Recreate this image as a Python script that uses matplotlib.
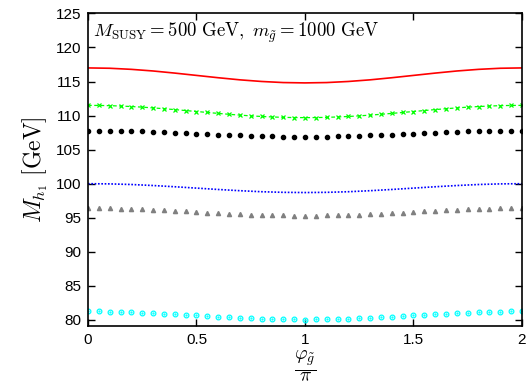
"""
Lightest Higgs mass vs gluino phase, gnuplot-like look.
"""

import numpy as np
import matplotlib
matplotlib.use('Agg')
import matplotlib.pyplot as plt

plt.rcParams['mathtext.fontset'] = 'cm'
plt.rcParams['font.family'] = ['Liberation Sans', 'DejaVu Sans']

# phase / pi
phi_line = np.linspace(0, 2, 21)
phi_pts = np.linspace(0, 2, 41)

red = [117.0, 116.95, 116.79, 116.55, 116.24, 115.9, 115.56, 115.25, 115.01, 114.85, 114.8,
       114.85, 115.01, 115.25, 115.56, 115.9, 116.24, 116.55, 116.79, 116.95, 117.0]
blue = [100.0, 99.97, 99.88, 99.73, 99.55, 99.35, 99.15, 98.97, 98.82, 98.73, 98.7,
        98.73, 98.82, 98.97, 99.15, 99.35, 99.55, 99.73, 99.88, 99.97, 100.0]

green = [111.5, 111.49, 111.46, 111.4, 111.33, 111.24, 111.13, 111.01, 110.88, 110.74, 110.6,
         110.46, 110.32, 110.19, 110.07, 109.96, 109.87, 109.8, 109.74, 109.71, 109.7,
         109.71, 109.74, 109.8, 109.87, 109.96, 110.07, 110.19, 110.32, 110.46, 110.6,
         110.74, 110.88, 111.01, 111.13, 111.24, 111.33, 111.4, 111.46, 111.49, 111.5]
black = [107.8, 107.79, 107.78, 107.75, 107.71, 107.67, 107.61, 107.55, 107.49, 107.42, 107.35,
         107.28, 107.21, 107.15, 107.09, 107.03, 106.99, 106.95, 106.92, 106.91, 106.9,
         106.91, 106.92, 106.95, 106.99, 107.03, 107.09, 107.15, 107.21, 107.28, 107.35,
         107.42, 107.49, 107.55, 107.61, 107.67, 107.71, 107.75, 107.78, 107.79, 107.8]
gray = [96.4, 96.39, 96.37, 96.34, 96.29, 96.24, 96.17, 96.1, 96.02, 95.94, 95.85,
        95.76, 95.68, 95.6, 95.53, 95.46, 95.41, 95.36, 95.33, 95.31, 95.3,
        95.31, 95.33, 95.36, 95.41, 95.46, 95.53, 95.6, 95.68, 95.76, 95.85,
        95.94, 96.02, 96.1, 96.17, 96.24, 96.29, 96.34, 96.37, 96.39, 96.4]
cyan = [81.25, 81.24, 81.22, 81.18, 81.14, 81.07, 81.0, 80.92, 80.84, 80.74, 80.65,
        80.56, 80.46, 80.38, 80.3, 80.23, 80.16, 80.12, 80.08, 80.06, 80.05,
        80.06, 80.08, 80.12, 80.16, 80.23, 80.3, 80.38, 80.46, 80.56, 80.65,
        80.74, 80.84, 80.92, 81.0, 81.07, 81.14, 81.18, 81.22, 81.24, 81.25]

fig = plt.figure(figsize=(5.31, 3.84), dpi=100)
ax = fig.add_axes([0.1657, 0.151, 0.8173, 0.814])

ax.plot(phi_line, red, color='#ff0000', lw=1.2)
ax.plot(phi_pts, green, color='#00ff00', lw=0.9, ls=(0, (3, 2)),
        marker='x', ms=3.2, mew=0.9)
ax.plot(phi_pts, black, ls='none', marker='o', ms=3.0, color='black')
ax.plot(phi_line, blue, color='#0000ff', lw=1.2, ls=(0, (1, 1)))
ax.plot(phi_pts, gray, ls='none', marker='^', ms=3.0, color='#808080')
ax.plot(phi_pts, cyan, ls='none', marker='o', ms=3.4, mfc='none',
        mec='#00ffff', mew=0.9)
ax.plot(phi_pts, cyan, ls='none', marker='.', ms=1.2, color='#00ffff')

ax.set_xlim(0, 2)
ax.set_ylim(79.1, 125)
ax.set_xticks([0, 0.5, 1, 1.5, 2])
ax.set_xticklabels(['0', '0.5', '1', '1.5', '2'])
ax.set_yticks(range(80, 126, 5))
ax.tick_params(direction='in', top=True, right=True, length=5, width=1,
               labelsize=11, pad=5)
for s in ax.spines.values():
    s.set_linewidth(1.2)

ax.text(0.025, 122.2, r'$M_{\mathrm{SUSY}} = 500\ \mathrm{GeV},\ m_{\tilde{g}} = 1000\ \mathrm{GeV}$',
        fontsize=13.5, va='center', ha='left')
ax.set_ylabel(r'$M_{h_1}\ [\mathrm{GeV}]$', fontsize=17, labelpad=4)
ax.set_xlabel(r'$\frac{\varphi_{\tilde{g}}}{\pi}$', fontsize=20, labelpad=1)

fig.savefig('out.png', dpi=100)
